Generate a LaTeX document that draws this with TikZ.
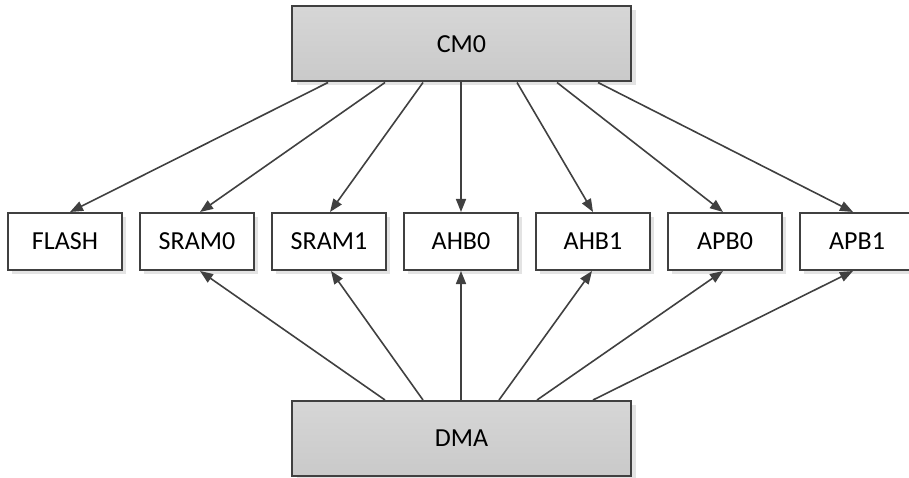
\documentclass[tikz,border=0pt]{standalone}
\usepackage{fontspec}
\setmainfont{Carlito}
\usetikzlibrary{arrows.meta,shadows,calc}
\definecolor{edge}{HTML}{404040}
\definecolor{shade}{HTML}{E3E3E3}
\tikzset{
  bigbox/.style={draw=edge, line width=2pt, top color=black!16, bottom color=black!21,
    minimum width=339pt, minimum height=75pt, inner sep=0pt,
    drop shadow={shadow xshift=5pt, shadow yshift=-4pt, fill=shade, opacity=1}},
  smallbox/.style={draw=edge, line width=2pt, fill=white,
    minimum width=114pt, minimum height=57pt, inner sep=0pt,
    drop shadow={shadow xshift=4pt, shadow yshift=-4pt, fill=shade, opacity=1}},
  conn/.style={draw=edge, line width=1.6pt, -{Triangle[length=13pt,width=10pt]}},
  every node/.style={font=\fontsize{26}{30}\selectfont}
}
\begin{document}
\begin{tikzpicture}[x=1pt,y=-1pt]
\useasboundingbox (0,0) rectangle (909,478);
\node[bigbox] (cm0) at (461.5,44) {CM0};
\node[bigbox] (dma) at (461.5,438.5) {DMA};
\node[smallbox] (flash) at (65,241.5) {FLASH};
\node[smallbox] (sram0) at (197,241.5) {SRAM0};
\node[smallbox] (sram1) at (329,241.5) {SRAM1};
\node[smallbox] (ahb0) at (461,241.5) {AHB0};
\node[smallbox] (ahb1) at (593,241.5) {AHB1};
\node[smallbox] (apb0) at (725,241.5) {APB0};
\node[smallbox] (apb1) at (857,241.5) {APB1};
% CM0 to targets
\draw[conn] ($(cm0.south)+(-133.5,0)$) -- ($(flash.north)+(5,0)$);
\draw[conn] ($(cm0.south)+(-76.5,0)$) -- ($(sram0.north)+(3,0)$);
\draw[conn] ($(cm0.south)+(-38.5,0)$) -- ($(sram1.north)+(1,0)$);
\draw[conn] ($(cm0.south)+(-0.5,0)$) -- (ahb0.north);
\draw[conn] ($(cm0.south)+(55.5,0)$) -- (ahb1.north);
\draw[conn] ($(cm0.south)+(95.5,0)$) -- ($(apb0.north)+(-2,0)$);
\draw[conn] ($(cm0.south)+(136.5,0)$) -- ($(apb1.north)+(-4,0)$);
% DMA to targets
\draw[conn] ($(dma.north)+(-76.5,0)$) -- ($(sram0.south)+(3,0)$);
\draw[conn] ($(dma.north)+(-38.5,0)$) -- ($(sram1.south)+(2,0)$);
\draw[conn] ($(dma.north)+(-0.5,0)$) -- (ahb0.south);
\draw[conn] ($(dma.north)+(37.5,0)$) -- ($(ahb1.south)+(-1,0)$);
\draw[conn] ($(dma.north)+(75.5,0)$) -- ($(apb0.south)+(-2,0)$);
\draw[conn] ($(dma.north)+(131.5,0)$) -- ($(apb1.south)+(-4,0)$);
\end{tikzpicture}
\end{document}
